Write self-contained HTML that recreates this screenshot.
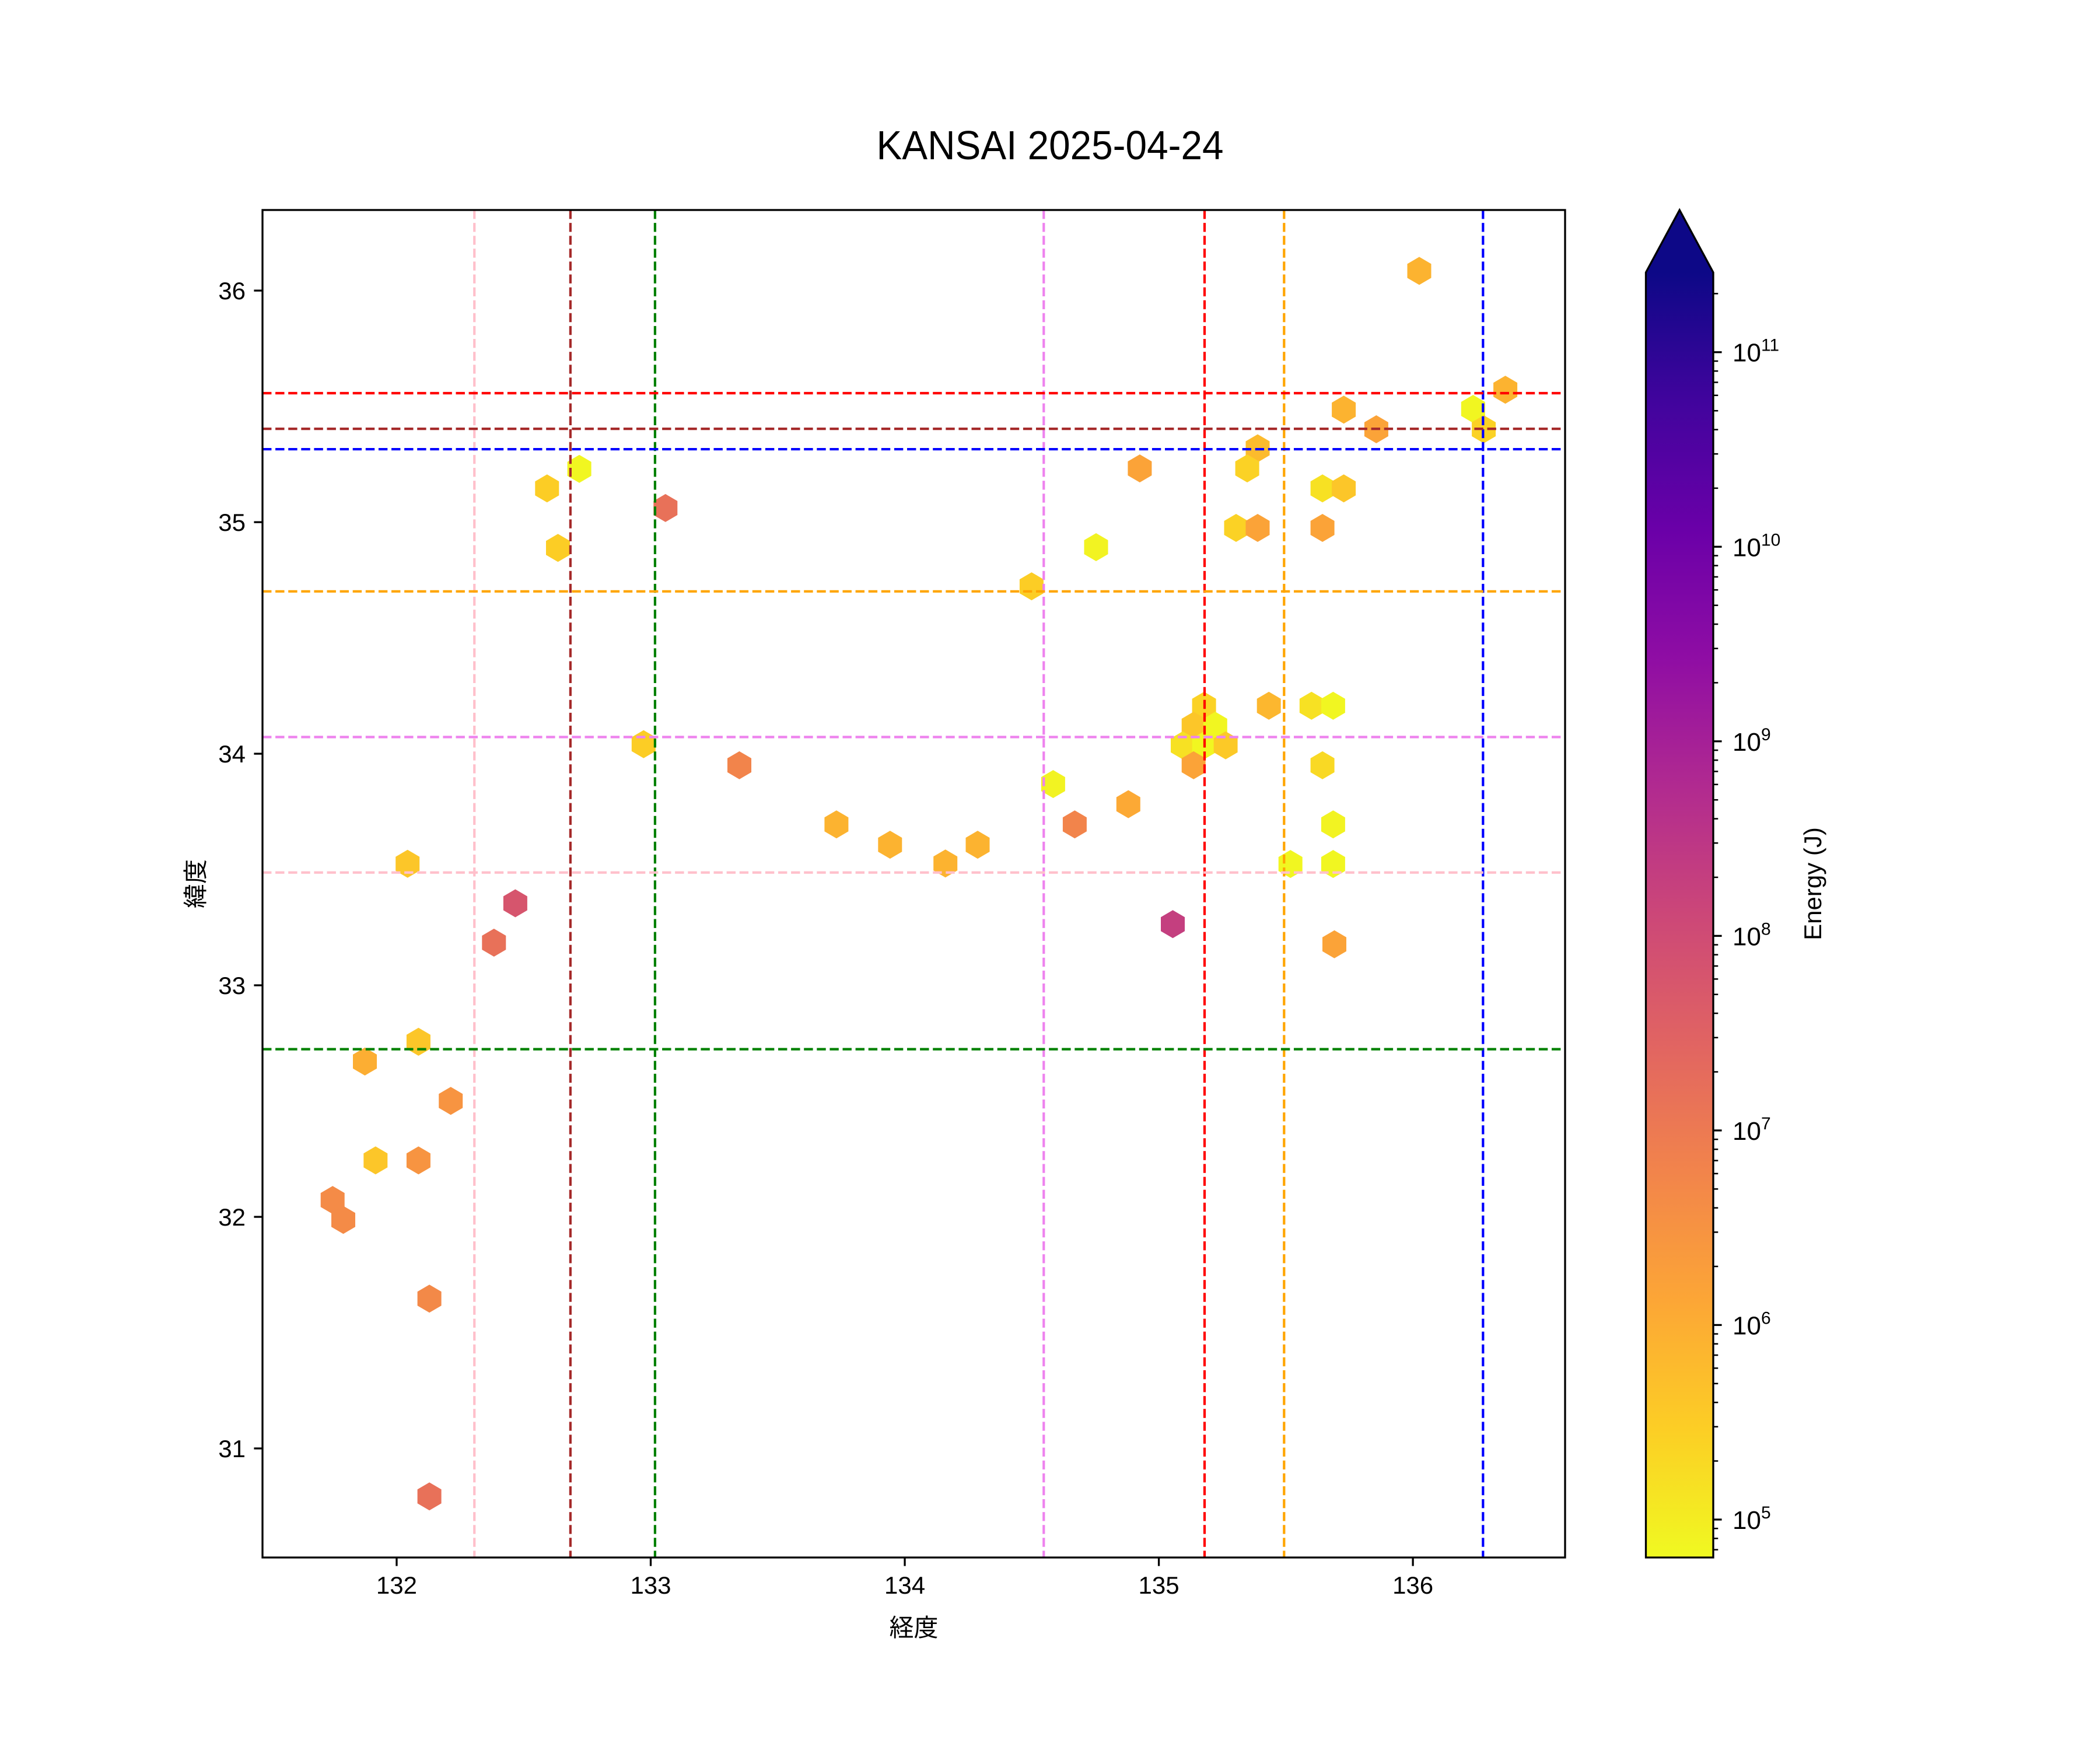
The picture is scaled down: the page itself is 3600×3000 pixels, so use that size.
<!DOCTYPE html>
<html><head><meta charset="utf-8">
<style>
html,body{margin:0;padding:0;background:#fff;}
svg{display:block;}
text{font-family:"Liberation Sans","Noto Sans CJK JP",sans-serif;fill:#000;}
</style></head>
<body>
<svg id="chart" width="3600" height="3000" viewBox="0 0 3600 3000" xmlns="http://www.w3.org/2000/svg">
<rect x="0" y="0" width="3600" height="3000" fill="#fff"/>
<text x="1800" y="273" font-size="70" text-anchor="middle" textLength="595" lengthAdjust="spacingAndGlyphs">KANSAI 2025-04-24</text>
<defs>
<linearGradient id="cbgrad" x1="0" y1="1" x2="0" y2="0">
<stop offset="0" stop-color="#f0f921"/><stop offset="0.1" stop-color="#fcce25"/><stop offset="0.2" stop-color="#fca636"/><stop offset="0.3" stop-color="#f2844b"/><stop offset="0.4" stop-color="#e16462"/><stop offset="0.5" stop-color="#cc4778"/><stop offset="0.6" stop-color="#b12a90"/><stop offset="0.7" stop-color="#8f0da4"/><stop offset="0.8" stop-color="#6a00a8"/><stop offset="0.9" stop-color="#41049d"/><stop offset="1" stop-color="#0d0887"/>
</linearGradient>
<clipPath id="plotclip"><rect x="450" y="360" width="2233" height="2310"/></clipPath>
</defs>
<g id="plot" clip-path="url(#plotclip)"></g>
<g id="axes"></g>
<g id="cbar"></g>
</svg>
<script>
// ---- data ----
const hexLon = [136.025,136.364,136.237,136.279,135.728,135.856,135.389,135.348,134.925,135.644,135.728,135.304,135.389,135.644,
134.753,134.499,132.719,132.592,132.635,133.058,132.972,133.349,133.731,133.942,134.160,134.287,134.584,134.669,134.880,135.055,135.691,
135.178,135.137,135.222,135.094,135.178,135.263,135.137,135.433,135.601,135.686,135.644,135.686,135.518,135.686,
132.043,132.467,132.383,132.086,131.875,132.213,131.917,132.086,131.748,131.790,132.129,132.129];
const hexLat = [36.085,35.572,35.489,35.401,35.486,35.401,35.319,35.232,35.232,35.146,35.146,34.975,34.975,34.975,
34.892,34.723,35.230,35.146,34.889,35.061,34.041,33.950,33.695,33.607,33.526,33.607,33.869,33.695,33.782,33.264,33.177,
34.207,34.121,34.121,34.036,34.036,34.036,33.950,34.207,34.207,34.207,33.950,33.695,33.524,33.524,
33.525,33.354,33.184,32.756,32.671,32.501,32.244,32.244,32.073,31.987,31.647,30.793];
const hexEnergy = [8e5,8e5,7e4,2.5e5,8e5,1.5e6,6e5,2.5e5,1.5e6,1.5e5,4e5,2.5e5,1.5e6,1.5e6,
8e4,3e5,7e4,3e5,3e5,1.5e7,3e5,6e6,8e5,8e5,8e5,8e5,8e4,6e6,1.2e6,2e8,1.5e6,
2.5e5,4e5,7e4,1.5e5,7e4,3.5e5,1.5e6,7e5,1.5e5,7e4,2e5,8e4,7e4,7e4,
4e5,6e7,1.5e7,4e5,1e6,3e6,4e5,3e6,4.5e6,4.5e6,5e6,1.5e7];
const vLineLon = [132.306,132.684,133.017,134.547,135.180,135.493,136.276];
const vLineColor = ["#ffc0cb","#a52a2a","#008000","#ee82ee","#ff0000","#ffa500","#0000ff"];
const hLineLat = [35.557,35.403,35.315,34.701,34.072,33.487,32.724];
const hLineColor = ["#ff0000","#a52a2a","#0000ff","#ffa500","#ee82ee","#ffc0cb","#008000"];
const xTicks = [132,133,134,135,136];
const yTicks = [31,32,33,34,35,36];
const cbDecades = [5,6,7,8,9,10,11];

// ---- axis functions ----
const AX = {l:450, r:2683, t:360, b:2670};
const XMIN = 131.472, XMAX = 136.599, YMIN = 30.529, YMAX = 36.348;
function sx(v){ return AX.l + (v - XMIN) / (XMAX - XMIN) * (AX.r - AX.l); }
function sy(v){ return AX.b - (v - YMIN) / (YMAX - YMIN) * (AX.b - AX.t); }
const CB = {l:2821.5, r:2937, t:467, b:2670, tip:360};
const LMIN = 4.805, LMAX = 11.41;
function cy(logv){ return CB.b - (logv - LMIN) / (LMAX - LMIN) * (CB.b - CB.t); }
const plasma = ["#0d0887","#41049d","#6a00a8","#8f0da4","#b12a90","#cc4778","#e16462","#f2844b","#fca636","#fcce25","#f0f921"];
function hex2rgb(h){ return [parseInt(h.slice(1,3),16),parseInt(h.slice(3,5),16),parseInt(h.slice(5,7),16)]; }
function colorFor(e){
  let t = (Math.log10(e) - LMIN) / (LMAX - LMIN);
  t = Math.max(0, Math.min(1, t));
  const p = (1 - t) * 10;
  const i = Math.min(9, Math.floor(p)), f = p - i;
  const a = hex2rgb(plasma[i]), b = hex2rgb(plasma[i+1]);
  return "rgb(" + a.map((v,k)=>Math.round(v + (b[k]-v)*f)).join(",") + ")";
}
const NS = "http://www.w3.org/2000/svg";
function mk(tag, attrs, parent){
  const el = document.createElementNS(NS, tag);
  for (const k in attrs) el.setAttribute(k, attrs[k]);
  parent.appendChild(el);
  return el;
}
const plot = document.getElementById("plot");
const axes = document.getElementById("axes");
const cbar = document.getElementById("cbar");

// hexagons
const HW = 20.5, HH = 24;
for (let i = 0; i < hexLon.length; i++){
  const cx = sx(hexLon[i]), cyy = sy(hexLat[i]);
  const pts = [[0,-HH],[HW,-HH/2],[HW,HH/2],[0,HH],[-HW,HH/2],[-HW,-HH/2]].map(p=>(cx+p[0]).toFixed(1)+","+(cyy+p[1]).toFixed(1)).join(" ");
  const h = mk("polygon", {points: pts, fill: colorFor(hexEnergy[i])}, plot);
  
  
}
// reference lines
for (let i = 0; i < vLineLon.length; i++){
  const x = sx(vLineLon[i]);
  const l = mk("line", {x1:x, x2:x, y1:AX.t, y2:AX.b, stroke:vLineColor[i], "stroke-width":4.2, "stroke-dasharray":"15.4,6.7"}, plot);
  
  
}
for (let i = 0; i < hLineLat.length; i++){
  const y = sy(hLineLat[i]);
  const l = mk("line", {x1:AX.l, x2:AX.r, y1:y, y2:y, stroke:hLineColor[i], "stroke-width":4.2, "stroke-dasharray":"15.4,6.7"}, plot);
  
  
}
// frame
const fr = mk("rect", {x:AX.l, y:AX.t, width:AX.r-AX.l, height:AX.b-AX.t, fill:"none", stroke:"#000", "stroke-width":3.3}, axes);


// x ticks
for (const v of xTicks){
  const x = sx(v);
  const t = mk("line", {x1:x, x2:x, y1:AX.b, y2:AX.b+14.6, stroke:"#000", "stroke-width":3.3}, axes);
  
  
  const lb = mk("text", {x:x, y:AX.b+62, "font-size":42, "text-anchor":"middle"}, axes);
  lb.textContent = String(v);
  
  
}
for (const v of yTicks){
  const y = sy(v);
  const t = mk("line", {x1:AX.l-14.6, x2:AX.l, y1:y, y2:y, stroke:"#000", "stroke-width":3.3}, axes);
  
  
  const lb = mk("text", {x:AX.l-29, y:y+15, "font-size":42, "text-anchor":"end"}, axes);
  lb.textContent = String(v);
  
  
}
const xl = mk("text", {x:(AX.l+AX.r)/2, y:2805, "font-size":42, "text-anchor":"middle"}, axes);
xl.textContent = "経度";


const yl = mk("text", {x:0, y:0, "font-size":42, "text-anchor":"middle", transform:"translate(350," + ((AX.t+AX.b)/2) + ") rotate(-90)"}, axes);
yl.textContent = "緯度";



// colorbar
const cr = mk("rect", {x:CB.l, y:CB.t, width:CB.r-CB.l, height:CB.b-CB.t, fill:"url(#cbgrad)"}, cbar);


const arr = mk("polygon", {points: CB.l+","+CB.t+" "+((CB.l+CB.r)/2)+","+CB.tip+" "+CB.r+","+CB.t, fill:"#0d0887"}, cbar);


const co = mk("polygon", {points: CB.l+","+CB.b+" "+CB.l+","+CB.t+" "+((CB.l+CB.r)/2)+","+CB.tip+" "+CB.r+","+CB.t+" "+CB.r+","+CB.b, fill:"none", stroke:"#000", "stroke-width":3.3}, cbar);


for (let d = 4; d <= 11; d++){
  for (let m = 1; m <= 9; m++){
    const lv = d + Math.log10(m);
    if (lv < LMIN || lv > LMAX) continue;
    const y = cy(lv);
    const major = (m === 1);
    const t = mk("line", {x1:CB.r, x2:CB.r+(major?14.6:8.3), y1:y, y2:y, stroke:"#000", "stroke-width":(major?3.3:2.5)}, cbar);
    
    
  }
}
for (const d of cbDecades){
  const y = cy(d);
  const lb = mk("text", {x:2970, y:y+16, "font-size":44}, cbar);
  
  
  const b = mk("tspan", {}, lb); b.textContent = "10";
  const s = mk("tspan", {"font-size":30, dy:-18}, lb); s.textContent = String(d);
}
const el = mk("text", {x:0, y:0, "font-size":42, "text-anchor":"middle", transform:"translate(3122," + ((AX.t+AX.b)/2) + ") rotate(-90)"}, cbar);
el.textContent = "Energy (J)";


</script>
</body></html>
